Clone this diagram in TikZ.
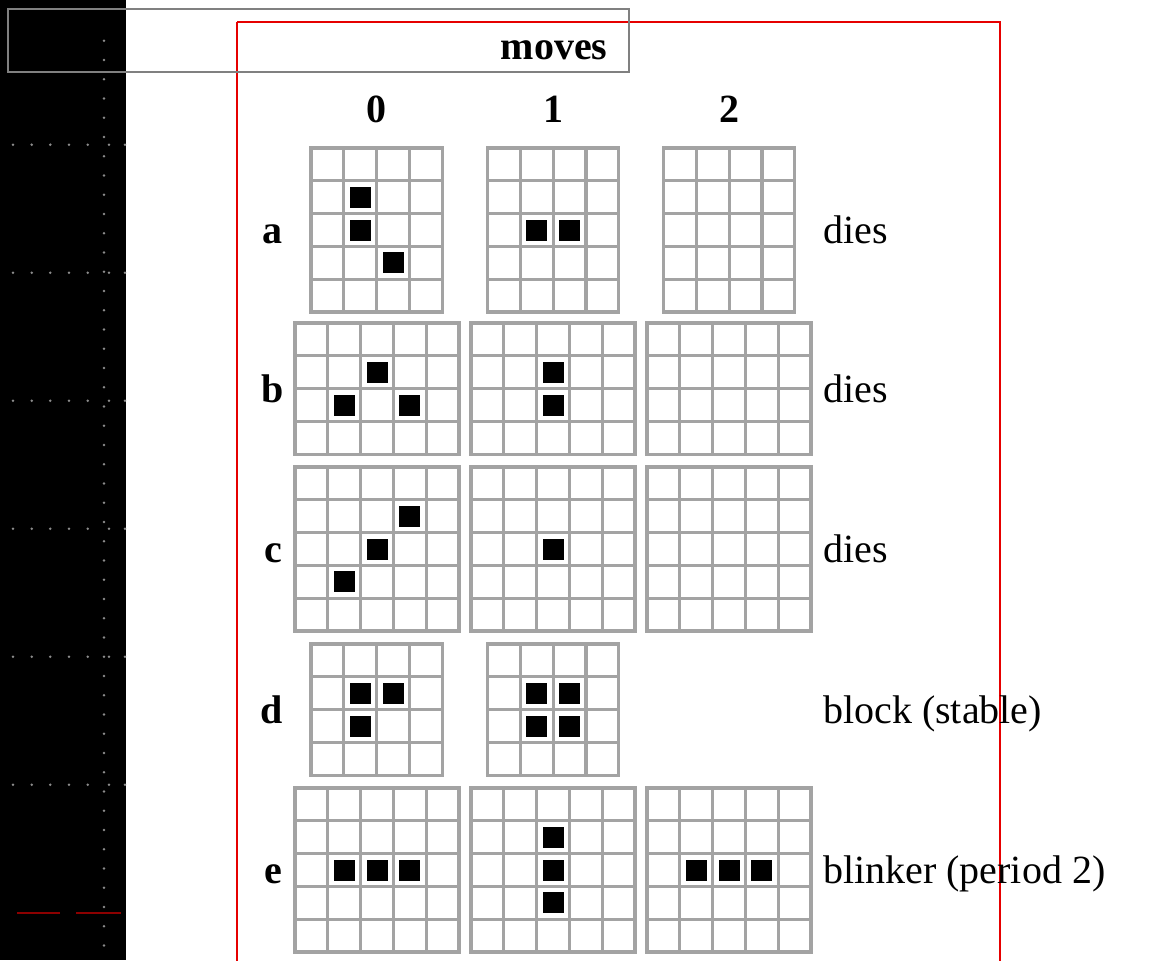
\documentclass[tikz,border=0pt]{standalone}
\usepackage{fontspec}
\setmainfont{Liberation Serif}
\definecolor{gridgray}{RGB}{163,163,163}
\definecolor{dotgray}{RGB}{140,140,140}
\definecolor{boxgray}{RGB}{128,128,128}
\definecolor{darkred}{RGB}{140,0,0}
\definecolor{framered}{RGB}{230,0,0}
\newcommand{\lifegrid}[4]{%
  \begin{scope}[shift={(#1,#2)}]
    \foreach \i in {0,...,#3} \draw[gridline] (\i*32.8,0) -- (\i*32.8,#4*32.8);
    \foreach \j in {0,...,#4} \draw[gridline] (0,\j*32.8) -- (#3*32.8,\j*32.8);
  \end{scope}}
\newcommand{\lifecells}[3]{%
  \begin{scope}[shift={(#1,#2)}]
    \foreach \c/\r in {#3} \fill[cellfill] (\c*32.8+5.9,\r*32.8+5.9) rectangle ++(21,21);
  \end{scope}}
\begin{document}
\begin{tikzpicture}[x=1pt,y=-1pt,
  gridline/.style={gridgray,line width=3.2pt,line cap=rect},
  cellfill/.style={black},
  txt/.style={font=\fontsize{40}{48}\selectfont,inner sep=0pt,anchor=base west},
  lbl/.style={font=\fontsize{40}{48}\selectfont\bfseries,inner sep=0pt,anchor=base},
  dot/.style={dotgray}]
\useasboundingbox (0,0) rectangle (1155,960);
\fill[white] (0,0) rectangle (1155,960);
% left black strip
\fill[black] (0,0) rectangle (126,960);
\foreach \k in {0,...,47} \fill[dot] (104,40.7+\k*19.25) circle (1.4);
\foreach \yy in {144.7,272.7,400.7,528.7,656.7,784.7}
  \foreach \xx in {13,31.7,50.3,69,87.7,109,125} \fill[dot] (\xx,\yy) circle (1.4);
\draw[darkred,line width=2pt] (17,913.3) -- (60,913.3);
\draw[darkred,line width=2pt] (76,913.3) -- (121,913.3);
% frames
\draw[framered,line width=1.6pt] (237,22) -- (1000,22) -- (1000,965);
\draw[framered,line width=1.6pt] (237,22) -- (237,965);
\draw[boxgray,line width=1.6pt] (8,9) rectangle (629,72);
% headers
\node[lbl] (moves) at (554,59.3) {moves};
\node[lbl] (h0) at (376,123) {0};
\node[lbl] (h1) at (553,123) {1};
\node[lbl] (h2) at (729,123) {2};
% row labels
\node[lbl] (la) at (272,243.3) {a};
\node[lbl] (lb) at (273,402.5) {b};
\node[lbl] (lc) at (273,562.5) {c};
\node[lbl] (ld) at (272,723) {d};
\node[lbl] (le) at (273,883) {e};
% right texts
\node[txt] (ta) at (823,243) {dies};
\node[txt] (tb) at (823,402.5) {dies};
\node[txt] (tc) at (823,562.5) {dies};
\node[txt] (td) at (823,723) {block (stable)};
\node[txt] (te) at (823,883) {blinker (period 2)};
% row a
\lifegrid{311}{148}{4}{5}\lifecells{311}{148}{1/1,1/2,2/3}
\lifegrid{487.5}{148}{4}{5}\lifecells{487.5}{148}{1/2,2/2}
\lifegrid{663.5}{148}{4}{5}
% row b
\lifegrid{295}{323}{5}{4}\lifecells{295}{323}{2/1,1/2,3/2}
\lifegrid{471}{323}{5}{4}\lifecells{471}{323}{2/1,2/2}
\lifegrid{647}{323}{5}{4}
% row c
\lifegrid{295}{467}{5}{5}\lifecells{295}{467}{3/1,2/2,1/3}
\lifegrid{471}{467}{5}{5}\lifecells{471}{467}{2/2}
\lifegrid{647}{467}{5}{5}
% row d
\lifegrid{311}{644}{4}{4}\lifecells{311}{644}{1/1,2/1,1/2}
\lifegrid{487.5}{644}{4}{4}\lifecells{487.5}{644}{1/1,2/1,1/2,2/2}
% row e
\lifegrid{295}{788}{5}{5}\lifecells{295}{788}{1/2,2/2,3/2}
\lifegrid{471}{788}{5}{5}\lifecells{471}{788}{2/1,2/2,2/3}
\lifegrid{647}{788}{5}{5}\lifecells{647}{788}{1/2,2/2,3/2}
\end{tikzpicture}
\end{document}
